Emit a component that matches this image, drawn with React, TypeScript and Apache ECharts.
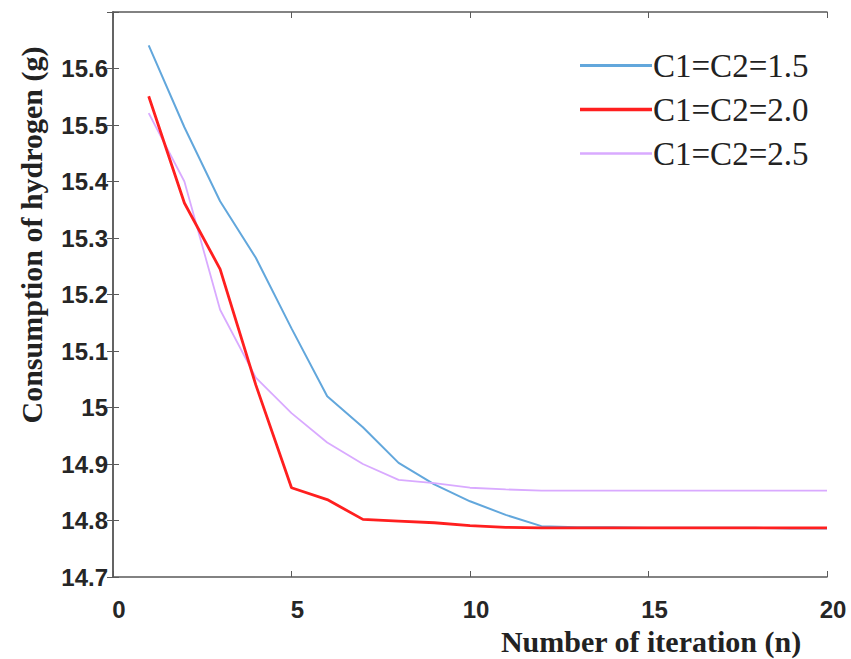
import React, { useEffect, useRef } from "react";
import * as echarts from "echarts";

const iterations = [1, 2, 3, 4, 5, 6, 7, 8, 9, 10, 11, 12, 13, 14, 15, 16, 17, 18, 19, 20];
const seriesNames = ["C1=C2=1.5", "C1=C2=2.0", "C1=C2=2.5"];
const c15 = [15.641, 15.496, 15.365, 15.265, 15.14, 15.02, 14.965, 14.902, 14.864, 14.834, 14.81, 14.79, 14.788, 14.788, 14.787, 14.787, 14.787, 14.787, 14.786, 14.786];
const c20 = [15.551, 15.362, 15.245, 15.04, 14.858, 14.837, 14.802, 14.799, 14.796, 14.791, 14.788, 14.787, 14.787, 14.787, 14.787, 14.787, 14.787, 14.787, 14.787, 14.787];
const c25 = [15.521, 15.4, 15.173, 15.053, 14.99, 14.938, 14.9, 14.872, 14.866, 14.858, 14.855, 14.853, 14.853, 14.853, 14.853, 14.853, 14.853, 14.853, 14.853, 14.853];
const colors = ["#62a7dc", "#ff1f1f", "#d9aaff"];
const widths = [2, 2.8, 1.8];
const xTitle = "Number of iteration (n)";
const yTitle = "Consumption of hydrogen (g)";

export default function App() {
  const ref = useRef<HTMLDivElement>(null);
  useEffect(() => {
    if (!ref.current) return;
    const chart = echarts.init(ref.current, null, { renderer: "svg" });
    const axisColor = "#5a5a5a";
    const labelStyle = {
      fontFamily: "Liberation Sans, Arial, sans-serif",
      fontWeight: "bold" as const,
      fontSize: 24,
      color: "#262626",
    };
    const allData = [c15, c20, c25];
    const iconPaths = [
      "path://M0,0 L72,0 L72,3 L0,3 Z",
      "path://M0,0 L72,0 L72,3.5 L0,3.5 Z",
      "path://M0,0 L72,0 L72,2.5 L0,2.5 Z",
    ];
    chart.setOption({
      animation: false,
      backgroundColor: "#fff",
      grid: { left: 113, top: 12, right: 24, bottom: 82, containLabel: false },
      legend: {
        orient: "vertical",
        left: 575,
        top: 44,
        itemWidth: 72,
        itemHeight: 14,
        itemGap: 11,
        textStyle: { fontFamily: "Liberation Serif, Times New Roman, serif", fontSize: 33, color: "#222", padding: [0, 0, 0, -4] },
        data: seriesNames.map((n, i) => ({ name: n, icon: iconPaths[i], itemStyle: { color: colors[i] } })),
      },
      xAxis: [
        {
          type: "value",
          min: 0,
          max: 20,
          interval: 5,
          position: "bottom",
          axisLine: { show: true, lineStyle: { color: axisColor, width: 1.5 } },
          axisTick: { show: true, inside: true, length: 6, lineStyle: { color: axisColor } },
          axisLabel: { ...labelStyle, margin: 20, padding: [0, 0, 0, 12] },
          splitLine: { show: false },
        },
        {
          type: "value",
          min: 0,
          max: 20,
          interval: 5,
          position: "top",
          axisLine: { show: true, lineStyle: { color: axisColor, width: 1.5 } },
          axisTick: { show: true, inside: true, length: 6, lineStyle: { color: axisColor } },
          axisLabel: { show: false },
          splitLine: { show: false },
        },
      ],
      yAxis: [
        {
          type: "value",
          min: 14.7,
          max: 15.7,
          interval: 0.1,
          position: "left",
          axisLine: { show: true, lineStyle: { color: axisColor, width: 1.5 } },
          axisTick: { show: true, inside: true, length: 6, lineStyle: { color: axisColor } },
          axisLabel: {
            ...labelStyle,
            margin: 5,
            formatter: (v: number) => (Math.abs(v - 15.7) < 1e-6 ? "" : String(+v.toFixed(1))),
          },
          splitLine: { show: false },
        },
        {
          type: "value",
          min: 14.7,
          max: 15.7,
          interval: 0.1,
          position: "right",
          axisLine: { show: true, lineStyle: { color: axisColor, width: 1.5 } },
          axisTick: { show: true, inside: true, length: 6, lineStyle: { color: axisColor } },
          axisLabel: { show: false },
          splitLine: { show: false },
        },
      ],
      series: seriesNames.map((n, i) => ({
        name: n,
        type: "line",
        xAxisIndex: 0,
        yAxisIndex: 0,
        showSymbol: false,
        symbol: "none",
        data: iterations.map((x, k) => [x, allData[i][k]]),
        lineStyle: { color: colors[i], width: widths[i] },
        itemStyle: { color: colors[i] },
        z: i === 1 ? 3 : 2,
      })),
      graphic: [
        {
          type: "text",
          x: 651,
          y: 641,
          style: {
            text: xTitle,
            font: "bold 30px 'Liberation Serif', 'Times New Roman', serif",
            fill: "#222",
            textAlign: "center",
            textVerticalAlign: "middle",
          },
        },
        {
          type: "text",
          x: 31,
          y: 235,
          rotation: Math.PI / 2,
          style: {
            text: yTitle,
            font: "bold 30px 'Liberation Serif', 'Times New Roman', serif",
            fill: "#222",
            textAlign: "center",
            textVerticalAlign: "middle",
          },
        },
      ],
    });
    return () => chart.dispose();
  }, []);
  return <div ref={ref} style={{ width: 851, height: 659, position: "absolute", left: 0, top: 0 }} />;
}
